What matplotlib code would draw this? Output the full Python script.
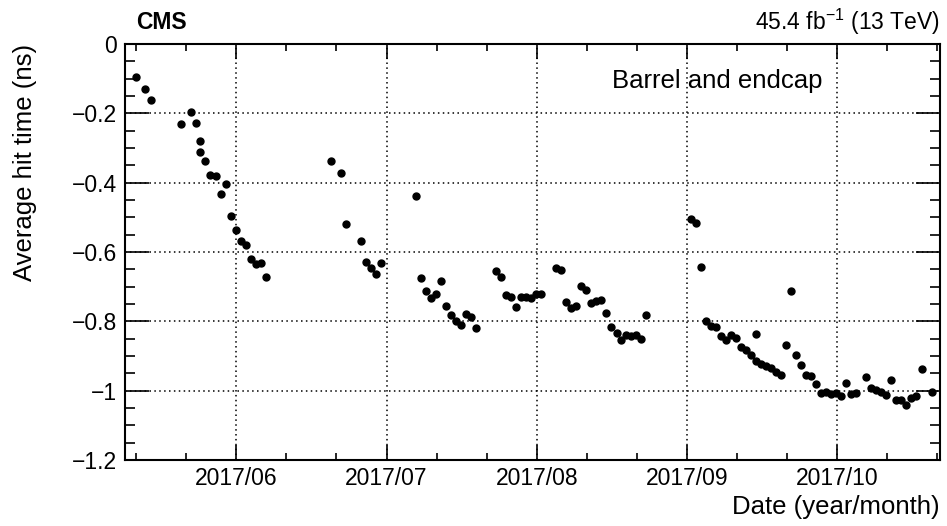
import numpy as np
import matplotlib.pyplot as plt
from matplotlib.ticker import FixedLocator, MultipleLocator

# days counted from 2017/06/01, average hit time in ns
days = [
    -20.4, -18.5, -17.4, -11.3, -9.2, -8.2, -7.3, -7.3, -6.3, -5.3, -4.2,
    -3.1, -2.1, -1.1, 0.0, 0.9, 2.0, 3.0, 4.0, 5.0, 6.0,
    19.2, 21.2, 22.3, 25.3, 26.3, 27.3, 28.3, 29.4,
    36.5, 37.5, 38.5, 39.6, 40.6, 41.6, 42.6, 43.6, 44.6, 45.6, 46.7, 47.7, 48.7,
    52.7, 53.8, 54.8, 55.8, 56.8, 57.8, 58.8, 59.8, 60.9, 61.9,
    64.9, 65.9, 66.9, 67.9, 69.0, 70.0, 71.0, 72.0, 73.0, 74.0, 75.1, 76.1,
    77.2, 78.2, 79.2, 80.2, 81.2, 82.2, 83.2,
    92.4, 93.4, 94.4, 95.4, 96.4, 97.4, 98.5, 99.5, 100.5, 101.5, 102.5, 103.5,
    104.5, 105.6, 105.6, 106.6, 107.6, 108.6, 109.6, 110.6, 111.6, 112.7, 113.7,
    114.7, 115.7, 116.7, 117.7, 118.7, 119.8, 120.8, 121.8, 122.8, 123.8, 124.8,
    125.8, 127.9, 128.9, 129.9, 131.0, 132.0, 133.0, 134.0, 135.0, 136.0, 137.0,
    138.1, 139.2, 141.2,
]
hit_time = [
    -0.094, -0.131, -0.161, -0.232, -0.197, -0.228, -0.280, -0.312, -0.337, -0.378, -0.381,
    -0.433, -0.405, -0.496, -0.536, -0.567, -0.579, -0.620, -0.634, -0.631, -0.671,
    -0.337, -0.372, -0.518, -0.569, -0.629, -0.646, -0.664, -0.633,
    -0.437, -0.675, -0.712, -0.732, -0.720, -0.683, -0.756, -0.782, -0.798, -0.811, -0.779, -0.787, -0.819,
    -0.655, -0.673, -0.725, -0.729, -0.758, -0.731, -0.731, -0.732, -0.720, -0.721,
    -0.646, -0.652, -0.744, -0.762, -0.757, -0.697, -0.709, -0.747, -0.742, -0.739, -0.775, -0.817,
    -0.834, -0.853, -0.839, -0.843, -0.838, -0.851, -0.783,
    -0.505, -0.517, -0.642, -0.799, -0.813, -0.816, -0.841, -0.854, -0.840, -0.849, -0.873, -0.882,
    -0.898, -0.914, -0.837, -0.924, -0.929, -0.934, -0.945, -0.956, -0.868, -0.712, -0.896,
    -0.927, -0.954, -0.958, -0.982, -1.006, -1.003, -1.011, -1.008, -1.015, -0.979, -1.011,
    -1.008, -0.961, -0.992, -0.999, -1.005, -1.013, -0.970, -1.028, -1.026, -1.040, -1.020,
    -1.016, -0.937, -1.004,
]

month_labels = ['2017/06', '2017/07', '2017/08', '2017/09', '2017/10']
month_step = 30.5
y_ticks = [0, -0.2, -0.4, -0.6, -0.8, -1, -1.2]
y_labels = ['0', '\u22120.2', '\u22120.4', '\u22120.6', '\u22120.8', '\u22121', '\u22121.2']

plt.rcParams['font.family'] = ['Liberation Sans', 'DejaVu Sans']
plt.rcParams['mathtext.fontset'] = 'custom'
plt.rcParams['mathtext.rm'] = 'Liberation Sans'

fig = plt.figure(figsize=(9.47, 5.26), dpi=100)
ax = fig.add_axes([0.132, 0.1255, 0.8607, 0.7908])

ax.plot(days, hit_time, 'o', color='black', markersize=5, linestyle='None', zorder=3)

ax.set_xlim(-22.6, 142.9)
ax.set_ylim(-1.2, 0)

major_x = [month_step * i for i in range(len(month_labels))]
ax.xaxis.set_major_locator(FixedLocator(major_x))
ax.set_xticklabels(month_labels)
ax.xaxis.set_minor_locator(FixedLocator(np.arange(-2, 15) * month_step / 3))
ax.set_yticks(y_ticks)
ax.set_yticklabels(y_labels)
ax.yaxis.set_minor_locator(MultipleLocator(0.05))

ax.grid(True, which='major', color='black', linestyle=(0, (1, 2.2)), linewidth=1.1)

ax.tick_params(which='both', direction='in', top=True, right=True, width=1.2, labelsize=16.5)
ax.tick_params(axis='x', which='major', length=11, pad=5)
ax.tick_params(axis='x', which='minor', length=5)
ax.tick_params(axis='y', which='major', length=17, pad=6)
ax.tick_params(axis='y', which='minor', length=7.5)
for s in ax.spines.values():
    s.set_linewidth(1.5)

ax.set_xlabel('Date (year/month)', fontsize=18.5, loc='right', labelpad=4)
ax.set_ylabel('Average hit time (ns)', fontsize=18.5, loc='top', labelpad=25)

ax.text(0.598, 0.91, 'Barrel and endcap', transform=ax.transAxes, fontsize=18.5, va='center')
fig.text(0.144, 0.958, 'CMS', fontsize=16.5, fontweight='bold', va='center')
fig.text(0.993, 0.958, '45.4 fb$^{-1}$ (13 TeV)', fontsize=16.5, ha='right', va='center')

fig.savefig('out.png', dpi=100)
